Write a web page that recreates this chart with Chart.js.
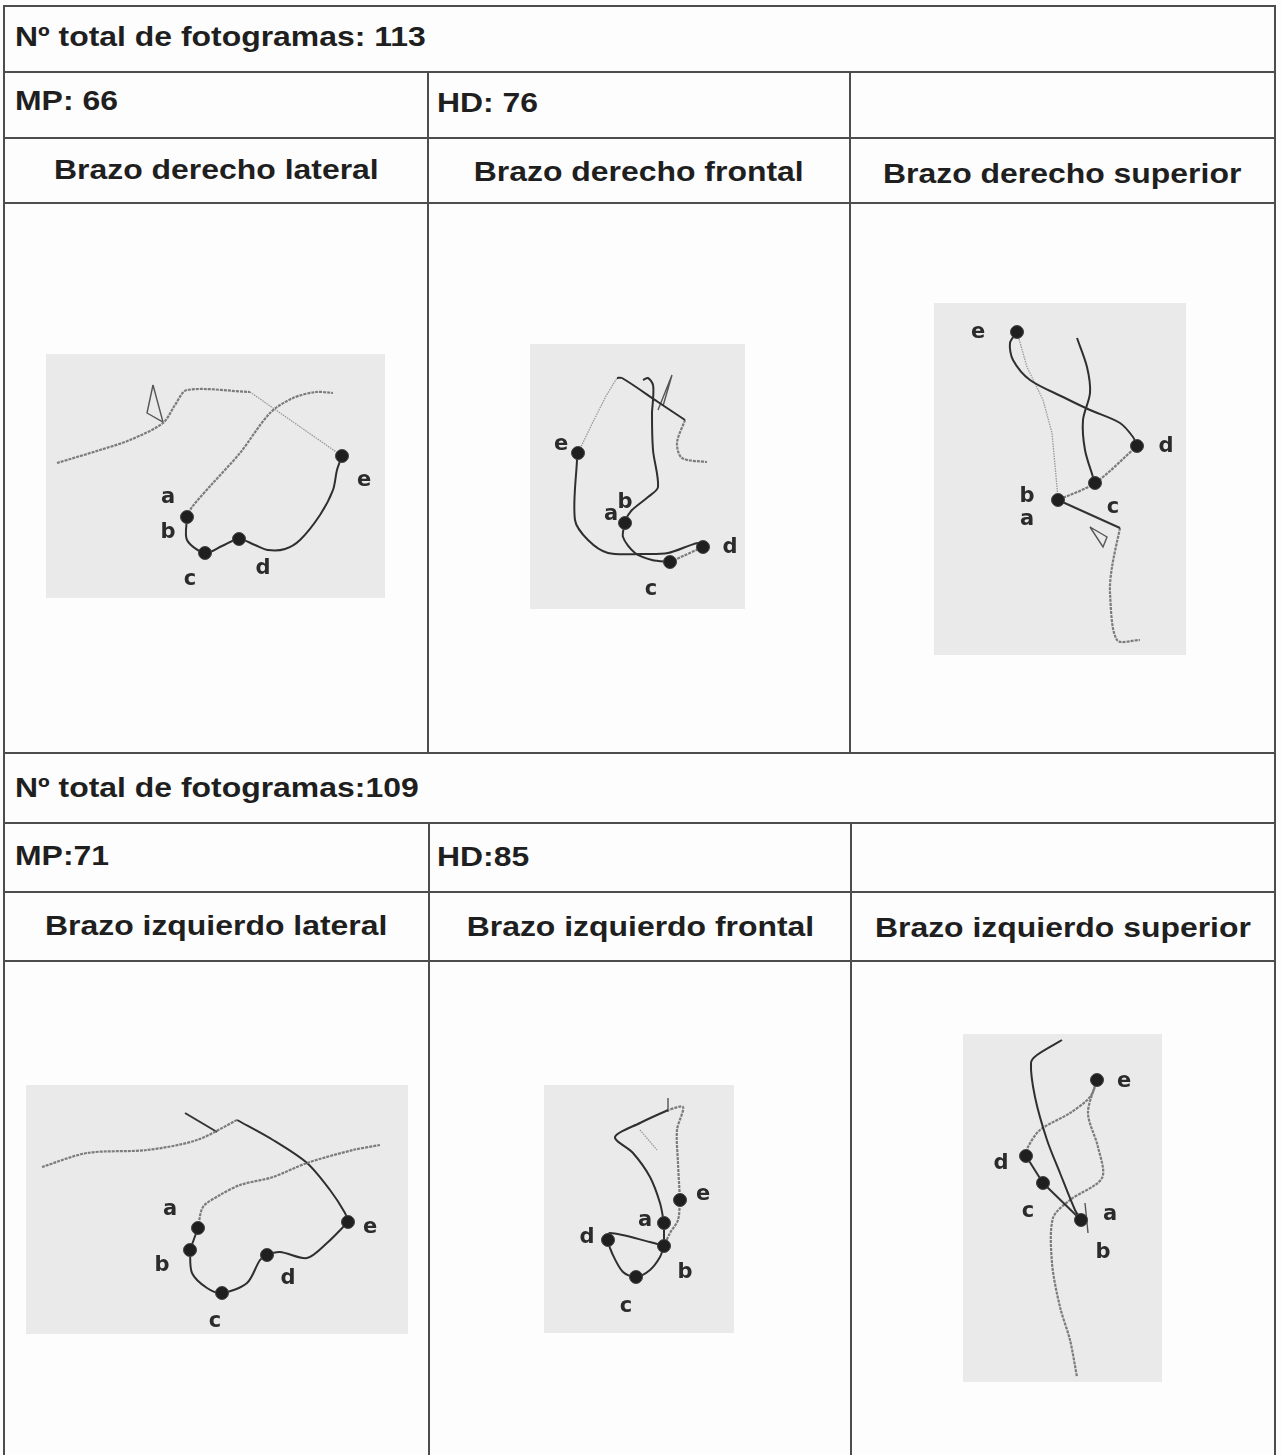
<!DOCTYPE html>
<html lang="es">
<head>
<meta charset="utf-8">
<title>Trayectorias del brazo</title>
<script src="https://cdn.jsdelivr.net/npm/chart.js@4/dist/chart.umd.min.js"></script>
<style>
  html, body { margin: 0; padding: 0; background: #fdfdfd; }
  body { width: 1281px; height: 1455px; position: relative; overflow: hidden;
         font-family: "Liberation Sans", Arial, sans-serif; color: #1f1f1f; }
  .h { position: absolute; height: 2px; background: #4d4d4d; left: 4px; width: 1272px; }
  .v { position: absolute; width: 2px; background: #4d4d4d; }
  .t { position: absolute; font-weight: bold; font-size: 28px; white-space: nowrap; }
  .t span { display: inline-block; transform: scaleX(1.14); }
  .izq span { transform-origin: left center; }
  .cen { text-align: center; }
  .cen span { transform-origin: center center; }
  canvas.panel { position: absolute; }
</style>
</head>
<body>
<!-- rejilla de la tabla -->
<div class="h" style="top:5px"></div>
<div class="h" style="top:71px"></div>
<div class="h" style="top:137px"></div>
<div class="h" style="top:202px"></div>
<div class="h" style="top:752px"></div>
<div class="h" style="top:822px"></div>
<div class="h" style="top:891px"></div>
<div class="h" style="top:960px"></div>
<div class="v" style="left:3px; top:5px; height:1450px"></div>
<div class="v" style="left:1274px; top:5px; height:1450px"></div>
<div class="v" style="left:427px; top:71px; height:683px"></div>
<div class="v" style="left:849px; top:71px; height:683px"></div>
<div class="v" style="left:428px; top:822px; height:633px"></div>
<div class="v" style="left:850px; top:822px; height:633px"></div>

<!-- textos de las celdas -->
<div class="t izq" style="left:15px; top:19px; line-height:36px"><span>Nº total de fotogramas: 113</span></div>
<div class="t izq" style="left:15px; top:83px; line-height:36px"><span>MP: 66</span></div>
<div class="t izq" style="left:437px; top:85px; line-height:36px"><span>HD: 76</span></div>
<div class="t cen" style="left:5px; width:422px; top:152px; line-height:36px"><span>Brazo derecho lateral</span></div>
<div class="t cen" style="left:429px; width:420px; top:154px; line-height:36px"><span>Brazo derecho frontal</span></div>
<div class="t cen" style="left:851px; width:423px; top:156px; line-height:36px"><span>Brazo derecho superior</span></div>

<div class="t izq" style="left:15px; top:770px; line-height:36px"><span>Nº total de fotogramas:109</span></div>
<div class="t izq" style="left:15px; top:838px; line-height:36px"><span>MP:71</span></div>
<div class="t izq" style="left:437px; top:839px; line-height:36px"><span>HD:85</span></div>
<div class="t cen" style="left:5px; width:423px; top:908px; line-height:36px"><span>Brazo izquierdo lateral</span></div>
<div class="t cen" style="left:430px; width:420px; top:909px; line-height:36px"><span>Brazo izquierdo frontal</span></div>
<div class="t cen" style="left:852px; width:422px; top:910px; line-height:36px"><span>Brazo izquierdo superior</span></div>

<canvas class="panel" id="derLateral"  width="339" height="244" style="left:46px;  top:354px"></canvas>
<canvas class="panel" id="derFrontal"  width="215" height="265" style="left:530px; top:344px"></canvas>
<canvas class="panel" id="derSuperior" width="252" height="352" style="left:934px; top:303px"></canvas>
<canvas class="panel" id="izqLateral"  width="382" height="249" style="left:26px;  top:1085px"></canvas>
<canvas class="panel" id="izqFrontal"  width="190" height="248" style="left:544px; top:1085px"></canvas>
<canvas class="panel" id="izqSuperior" width="199" height="348" style="left:963px; top:1034px"></canvas>

<script>
// ---- Brazo derecho, vista lateral (x, y en unidades de la vista) ----
const dlBrazo    = [[11,109],[54,96],[84,86],[117,69],[129,51],[141,36],[204,38]];
const dlFino     = [[204,38],[296,102]];
const dlFlecha   = [[107,31],[101,59],[117,68],[107,31]];
const dlRetorno  = [[141,163],[141,186],[159,199],[176,192],[193,185],[209,191],[222,196],[239,195],[254,186],[274,161],[287,136],[291,116],[296,102]];
const dlIda      = [[141,163],[146,153],[167,129],[194,99],[224,59],[247,44],[270,38],[287,39]];
const dlMarcas   = [[141,163],[159,199],[193,185],[296,102]];
const dlLetras   = [['a',122,144],['b',122,179],['c',144,226],['d',217,215],['e',318,127]];

// ---- Brazo derecho, vista frontal ----
const dfPunteado = [[48,109],[62,80],[76,52],[87,34]];
const dfHombro   = [[87,34],[92,34],[128,58],[155,76]];
const dfCodo     = [[155,76],[147,99],[152,114],[177,118]];
const dfVertical = [[113,36],[118,34],[123,41],[123,56],[122,69],[123,106],[128,143],[118,153],[102,166],[95,176]];
const dfFlecha   = [[128,66],[142,31],[133,62]];
const dfLazo     = [[48,109],[47,116],[45,176],[58,196],[78,209],[112,210],[138,209],[168,199],[173,203]];
const dfBajada   = [[95,179],[93,193],[105,209],[122,216],[140,218]];
const dfCierre   = [[140,218],[173,203]];
const dfMarcas   = [[48,109],[95,179],[140,218],[173,203]];
const dfLetras   = [['e',31,101],['a',81,171],['b',95,159],['d',200,204],['c',121,246]];

// ---- Brazo derecho, vista superior ----
const dsCurva    = [[83,29],[76,40],[79,57],[96,77],[129,94],[156,107],[186,120],[199,134],[203,143]];
const dsGris     = [[83,29],[93,64],[109,97],[118,130],[123,184],[124,197]];
const dsVertical = [[143,35],[153,64],[156,90],[149,117],[151,147],[159,174],[161,180]];
const dsUnion    = [[203,143],[161,180],[124,197]];
const dsSalida   = [[124,197],[186,225]];
const dsCola     = [[186,225],[178,264],[176,290],[183,337],[206,337]];
const dsFlecha   = [[156,224],[169,244],[173,234],[156,224]];
const dsMarcas   = [[83,29],[203,143],[161,180],[124,197]];
const dsLetras   = [['e',44,30],['d',232,144],['c',179,205],['b',93,194],['a',93,217]];

// ---- Brazo izquierdo, vista lateral ----
const ilGris     = [[16,82],[61,68],[121,65],[171,55],[211,35]];
const ilOscuro   = [[211,35],[247,55],[281,78],[304,105],[319,128],[322,137]];
const ilCorto    = [[159,28],[191,47]];
const ilIda      = [[172,143],[177,122],[194,110],[214,100],[247,92],[281,78],[327,65],[354,60]];
const ilLazo     = [[164,165],[166,188],[181,203],[196,208],[221,198],[234,175],[241,170],[254,167],[281,173],[301,158],[322,137]];
const ilTramo    = [[172,143],[164,165]];
const ilMarcas   = [[172,143],[164,165],[196,208],[241,170],[322,137]];
const ilLetras   = [['a',144,125],['b',136,181],['c',189,237],['d',262,194],['e',344,143]];

// ---- Brazo izquierdo, vista frontal ----
const ifOscuro   = [[120,138],[116,118],[106,92],[89,68],[71,52],[96,38],[124,25]];
const ifGris     = [[136,115],[134,78],[133,45],[139,22],[124,25]];
const ifTope     = [[124,13],[124,27]];
const ifClaro    = [[96,45],[113,65]];
const ifDescenso = [[136,115],[134,135],[126,148],[120,161]];
const ifLazo     = [[120,161],[106,157],[66,148],[64,155],[68,168],[79,187],[92,192],[106,185],[116,172],[120,161]];
const ifTramo    = [[120,138],[120,161]];
const ifMarcas   = [[136,115],[120,138],[120,161],[64,155],[92,192]];
const ifLetras   = [['e',159,110],['a',101,136],['b',141,188],['d',43,153],['c',82,222]];

// ---- Brazo izquierdo, vista superior ----
const isOscuro   = [[99,6],[74,21],[68,29],[72,63],[84,106],[97,139],[112,176],[118,186]];
const isRecta    = [[63,122],[80,149],[118,186]];
const isSubida   = [[63,122],[65,113],[77,96],[107,79],[127,63],[134,46]];
const isCola     = [[134,46],[125,79],[135,113],[139,144],[107,166],[90,184],[89,229],[97,273],[107,306],[114,343]];
const isTope     = [[122,169],[125,199]];
const isMarcas   = [[134,46],[63,122],[80,149],[118,186]];
const isLetras   = [['e',161,48],['d',38,130],['c',65,178],['a',147,181],['b',140,219]];

// estilos de trazo
const trazos = {
  oscuro: { color: '#2f2f2f', width: 2,   dash: [],      tension: 0.3 },
  gris:   { color: '#7c7c7c', width: 2.2, dash: [3, 1],  tension: 0.3 },
  fino:   { color: '#9a9a9a', width: 1.3, dash: [1.5, 1], tension: 0 },
  recto:  { color: '#333333', width: 2,   dash: [],      tension: 0 },
  flecha: { color: '#555555', width: 1.4, dash: [],      tension: 0 }
};

const toXY = pts => pts.map(([x, y]) => ({ x, y }));

// fondo gris de cada vista
const fondoPanel = {
  id: 'fondoPanel',
  beforeDraw(chart) {
    const { ctx, chartArea: a } = chart;
    ctx.save();
    ctx.fillStyle = '#eaeaea';
    ctx.fillRect(a.left, a.top, a.width, a.height);
    ctx.restore();
  }
};

// letras a–e junto a las posiciones clave
const letras = {
  id: 'letras',
  afterDatasetsDraw(chart, args, opts) {
    const { ctx, scales: { x, y } } = chart;
    ctx.save();
    ctx.font = 'bold 21px "DejaVu Sans", sans-serif';
    ctx.fillStyle = '#2b2b2b';
    ctx.textAlign = 'center';
    ctx.textBaseline = 'middle';
    (opts.items || []).forEach(([t, vx, vy]) => {
      ctx.fillText(t, x.getPixelForValue(vx), y.getPixelForValue(vy));
    });
    ctx.restore();
  }
};

function vista(id, ancho, alto, lineas, marcas, etiquetas) {
  const datasets = [{
    data: toXY(marcas),
    showLine: false,
    pointRadius: 6.5,
    pointBackgroundColor: '#1f1f1f',
    pointBorderColor: '#444',
    pointBorderWidth: 1,
    clip: false
  }];
  lineas.forEach(([pts, tipo]) => {
    const s = trazos[tipo];
    datasets.push({
      data: toXY(pts),
      showLine: true,
      borderColor: s.color,
      borderWidth: s.width,
      borderDash: s.dash,
      tension: s.tension,
      pointRadius: 0,
      fill: false,
      clip: false
    });
  });
  new Chart(document.getElementById(id), {
    type: 'scatter',
    data: { datasets },
    options: {
      responsive: false,
      animation: false,
      events: [],
      layout: { padding: 0, autoPadding: false },
      plugins: { legend: { display: false }, tooltip: { enabled: false }, letras: { items: etiquetas } },
      scales: {
        x: { type: 'linear', min: 0, max: ancho, display: false },
        y: { type: 'linear', min: 0, max: alto, reverse: true, display: false }
      }
    },
    plugins: [fondoPanel, letras]
  });
}

vista('derLateral', 339, 244, [
  [dlRetorno, 'oscuro'], [dlIda, 'gris'], [dlBrazo, 'gris'], [dlFino, 'fino'], [dlFlecha, 'flecha']
], dlMarcas, dlLetras);

vista('derFrontal', 215, 265, [
  [dfLazo, 'oscuro'], [dfBajada, 'oscuro'], [dfCierre, 'gris'], [dfVertical, 'oscuro'],
  [dfHombro, 'oscuro'], [dfCodo, 'gris'], [dfPunteado, 'fino'], [dfFlecha, 'flecha']
], dfMarcas, dfLetras);

vista('derSuperior', 252, 352, [
  [dsCurva, 'oscuro'], [dsGris, 'fino'], [dsVertical, 'oscuro'], [dsUnion, 'gris'],
  [dsSalida, 'recto'], [dsCola, 'gris'], [dsFlecha, 'flecha']
], dsMarcas, dsLetras);

vista('izqLateral', 382, 249, [
  [ilLazo, 'oscuro'], [ilTramo, 'oscuro'], [ilIda, 'gris'], [ilGris, 'gris'],
  [ilOscuro, 'oscuro'], [ilCorto, 'recto']
], ilMarcas, ilLetras);

vista('izqFrontal', 190, 248, [
  [ifLazo, 'oscuro'], [ifTramo, 'oscuro'], [ifDescenso, 'gris'], [ifOscuro, 'oscuro'],
  [ifGris, 'gris'], [ifTope, 'flecha'], [ifClaro, 'fino']
], ifMarcas, ifLetras);

vista('izqSuperior', 199, 348, [
  [isOscuro, 'oscuro'], [isRecta, 'recto'], [isSubida, 'gris'], [isCola, 'gris'], [isTope, 'flecha']
], isMarcas, isLetras);
</script>
</body>
</html>
